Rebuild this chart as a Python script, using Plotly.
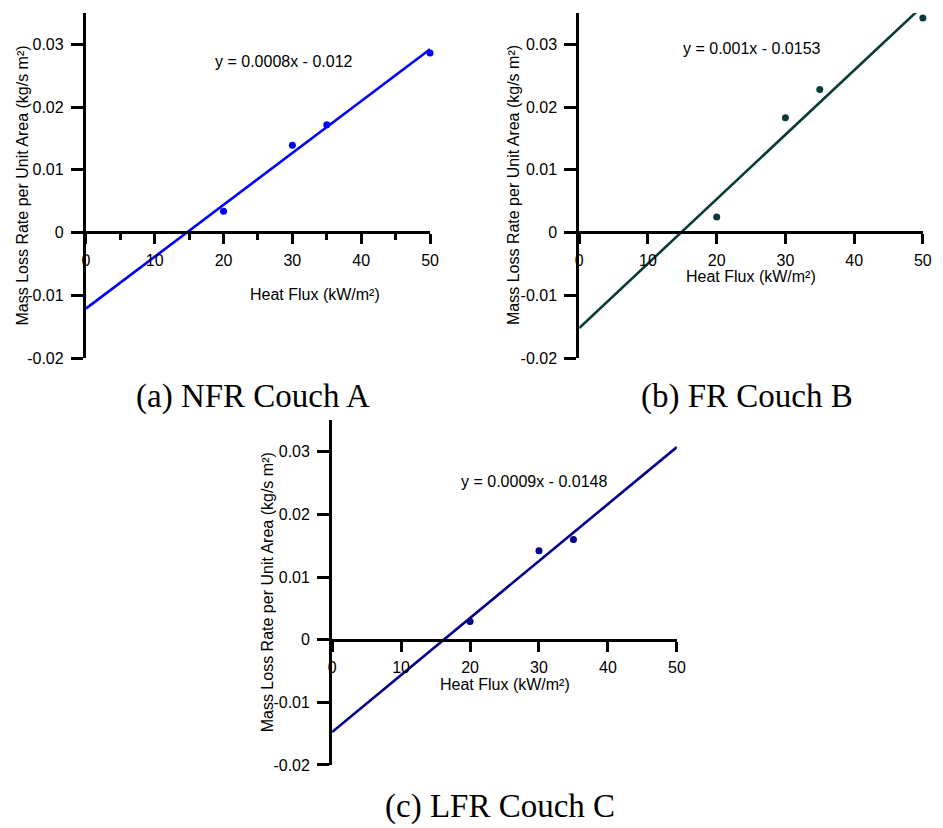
import numpy as np
import plotly.graph_objects as go

W, H = 943, 828

# Heat flux (kW/m2) and measured mass loss rate per unit area (kg/s m2)
flux_a = [20, 30, 35, 50]
mlr_a = [0.0034, 0.0139, 0.0172, 0.0286]
flux_b = [20, 30, 35, 50]
mlr_b = [0.0025, 0.0183, 0.0228, 0.0342]
flux_c = [20, 30, 35]
mlr_c = [0.0029, 0.0142, 0.0160]

eq_a = "y = 0.0008x - 0.012"
eq_b = "y = 0.001x - 0.0153"
eq_c = "y = 0.0009x - 0.0148"

captions = ["(a) NFR Couch A", "(b) FR Couch B", "(c) LFR Couch C"]
colors = ["#0000ff", "#0b3b38", "#00008b"]

y_ticks = [-0.02, -0.01, 0, 0.01, 0.02, 0.03]
y_ticktext = ["-0.02", "-0.01", "0", "0.01", "0.02", "0.03"]
x_range = [0, 50]
y_range = [-0.02, 0.035]

SANS = "Liberation Sans, Arial, sans-serif"
SERIF = "Liberation Serif, Times New Roman, serif"


def fx(px):
    return px / W


def fy(py):
    return 1 - py / H


# panel boxes in pixels: (left, right, top(y=0.035), bottom(y=-0.02), y=0 row)
panels = [
    dict(l=83, r=432, t=13.1, b=362, zero=235),
    dict(l=583.3, r=931.7, t=13.1, b=362, zero=235),
    dict(l=332.7, r=682.3, t=425.1, b=773.3, zero=646.7),
]

series = [(flux_a, mlr_a), (flux_b, mlr_b), (flux_c, mlr_c)]

fig = go.Figure()
layout = dict(
    width=W, height=H,
    margin=dict(l=0, r=0, t=0, b=0),
    paper_bgcolor="white", plot_bgcolor="white",
    showlegend=False,
)

for i, ((xs, ys), col, p) in enumerate(zip(series, colors, panels)):
    n = "" if i == 0 else str(i + 1)
    slope, icpt = np.polyfit(xs, ys, 1)
    fit_x = np.array(x_range, dtype=float)
    fit_y = slope * fit_x + icpt
    fig.add_trace(go.Scatter(x=fit_x, y=fit_y, mode="lines",
                             line=dict(color=col, width=2.6),
                             xaxis="x" + n, yaxis="y" + n, hoverinfo="skip"))
    fig.add_trace(go.Scatter(x=xs, y=ys, mode="markers", cliponaxis=False,
                             marker=dict(color=col, size=7),
                             xaxis="x" + n, yaxis="y" + n))

    xa = dict(
        domain=[fx(p["l"]), fx(p["r"])], range=x_range,
        anchor="free", position=fy(p["zero"]),
        showline=True, linewidth=3, linecolor="black",
        ticks="outside", ticklen=10, tickwidth=3, tickcolor="black",
        tick0=0, dtick=10, showgrid=False, zeroline=False,
        tickfont=dict(family=SANS, size=16, color="black"),
        ticklabelstandoff=2,
    )
    if i == 0:
        xa["minor"] = dict(dtick=5, ticks="outside", ticklen=6,
                           tickwidth=3, tickcolor="black", showgrid=False)
    ya = dict(
        domain=[fy(p["b"]), fy(p["t"])], range=y_range,
        anchor="x" + n,
        showline=True, linewidth=3, linecolor="black",
        ticks="outside", ticklen=12, tickwidth=3, tickcolor="black",
        tickvals=y_ticks, ticktext=y_ticktext,
        showgrid=False, zeroline=False,
        tickfont=dict(family=SANS, size=16, color="black"),
        ticklabelstandoff=4,
    )
    layout["xaxis" + n] = xa
    layout["yaxis" + n] = ya

ann = []


def text(px, py, s, size=16, family=SANS, angle=0):
    ann.append(dict(x=fx(px), y=fy(py), xref="paper", yref="paper",
                    text=s, showarrow=False, textangle=angle,
                    xanchor="center", yanchor="middle",
                    font=dict(family=family, size=size, color="black")))


# fitted equations
text(284, 62, eq_a)
text(758.3, 49.3, eq_b)
text(537, 486.7, eq_c)

# axis titles
x_title = "Heat Flux (kW/m²)"
y_title = "Mass Loss Rate per Unit Area (kg/s m²)"
text(315.5, 297.7, x_title)
text(757.5, 280, x_title)
text(507.5, 692.5, x_title)
text(18.3, 187.5, y_title, angle=-90)
text(516.7, 187.5, y_title, angle=-90)
text(267.3, 599.2, y_title, angle=-90)

# sub-figure captions
text(252.5, 401, captions[0], size=33, family=SERIF)
text(753, 401, captions[1], size=33, family=SERIF)
text(503, 815, captions[2], size=33, family=SERIF)

layout["annotations"] = ann
fig.update_layout(**layout)
fig.write_html("out.html")
